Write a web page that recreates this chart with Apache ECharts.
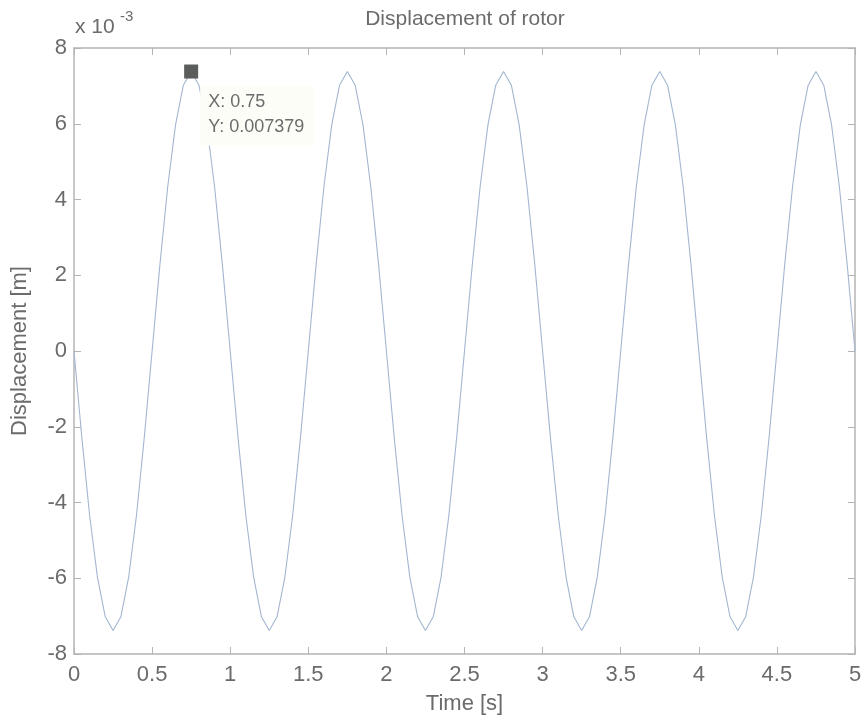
<!DOCTYPE html>
<html>
<head>
<meta charset="utf-8">
<title>Displacement of rotor</title>
<script src="https://cdn.jsdelivr.net/npm/echarts@6/dist/echarts.min.js"></script>
<style>
  html, body { margin: 0; padding: 0; background: #fff; }
  #chart { width: 867px; height: 722px; }
</style>
</head>
<body>
<div id="chart"></div>
<script>
// time samples [s]
const timeS = [
  0.00, 0.05, 0.10, 0.15, 0.20, 0.25, 0.30, 0.35, 0.40, 0.45,
  0.50, 0.55, 0.60, 0.65, 0.70, 0.75, 0.80, 0.85, 0.90, 0.95,
  1.00, 1.05, 1.10, 1.15, 1.20, 1.25, 1.30, 1.35, 1.40, 1.45,
  1.50, 1.55, 1.60, 1.65, 1.70, 1.75, 1.80, 1.85, 1.90, 1.95,
  2.00, 2.05, 2.10, 2.15, 2.20, 2.25, 2.30, 2.35, 2.40, 2.45,
  2.50, 2.55, 2.60, 2.65, 2.70, 2.75, 2.80, 2.85, 2.90, 2.95,
  3.00, 3.05, 3.10, 3.15, 3.20, 3.25, 3.30, 3.35, 3.40, 3.45,
  3.50, 3.55, 3.60, 3.65, 3.70, 3.75, 3.80, 3.85, 3.90, 3.95,
  4.00, 4.05, 4.10, 4.15, 4.20, 4.25, 4.30, 4.35, 4.40, 4.45,
  4.50, 4.55, 4.60, 4.65, 4.70, 4.75, 4.80, 4.85, 4.90, 4.95,
  5.00
];

// rotor displacement [m]
const displacement = [
  0, -0.002280, -0.004337, -0.005970, -0.007018, -0.007379, -0.007018, -0.005970, -0.004337, -0.002280,
  0,  0.002280,  0.004337,  0.005970,  0.007018,  0.007379,  0.007018,  0.005970,  0.004337,  0.002280,
  0, -0.002280, -0.004337, -0.005970, -0.007018, -0.007379, -0.007018, -0.005970, -0.004337, -0.002280,
  0,  0.002280,  0.004337,  0.005970,  0.007018,  0.007379,  0.007018,  0.005970,  0.004337,  0.002280,
  0, -0.002280, -0.004337, -0.005970, -0.007018, -0.007379, -0.007018, -0.005970, -0.004337, -0.002280,
  0,  0.002280,  0.004337,  0.005970,  0.007018,  0.007379,  0.007018,  0.005970,  0.004337,  0.002280,
  0, -0.002280, -0.004337, -0.005970, -0.007018, -0.007379, -0.007018, -0.005970, -0.004337, -0.002280,
  0,  0.002280,  0.004337,  0.005970,  0.007018,  0.007379,  0.007018,  0.005970,  0.004337,  0.002280,
  0, -0.002280, -0.004337, -0.005970, -0.007018, -0.007379, -0.007018, -0.005970, -0.004337, -0.002280,
  0,  0.002280,  0.004337,  0.005970,  0.007018,  0.007379,  0.007018,  0.005970,  0.004337,  0.002280,
  0
];

// data tip
const tipPoint = [0.75, 0.007379];

const FONT = "'Liberation Sans', Arial, sans-serif";
const TEXT = '#6b6b6b';
const FRAME = '#b4b4b4';

const chart = echarts.init(document.getElementById('chart'));

// top / right frame axes, no labels
const hiddenAxis = {
  axisLabel: { show: false },
  splitLine: { show: false },
  axisLine: { show: true, onZero: false, lineStyle: { color: FRAME, width: 1.5 } },
  axisTick: { show: true, inside: true, length: 7, lineStyle: { color: FRAME } }
};

const option = {
  backgroundColor: '#ffffff',
  animation: false,
  title: {
    text: 'Displacement of rotor',
    left: 465,
    top: 9,
    textAlign: 'center',
    padding: 0,
    textStyle: { fontFamily: FONT, fontSize: 21, fontWeight: 'normal', color: TEXT }
  },
  grid: { left: 74, right: 12, top: 48, bottom: 68, outerBoundsMode: 'none', containLabel: false },
  xAxis: [
    {
      type: 'value',
      min: 0, max: 5, interval: 0.5,
      name: 'Time [s]',
      nameLocation: 'middle',
      nameGap: 39,
      nameTextStyle: { fontFamily: FONT, fontSize: 22, color: TEXT },
      axisLabel: { fontFamily: FONT, fontSize: 22, color: TEXT, margin: 10 },
      splitLine: { show: false },
      axisLine: { show: true, onZero: false, lineStyle: { color: FRAME, width: 1.5 } },
      axisTick: { show: true, inside: true, length: 7, lineStyle: { color: FRAME } }
    },
    Object.assign({ type: 'value', position: 'top', min: 0, max: 5, interval: 0.5 }, hiddenAxis)
  ],
  yAxis: [
    {
      type: 'value',
      min: -0.008, max: 0.008, interval: 0.002,
      name: 'Displacement [m]',
      nameLocation: 'middle',
      nameGap: 43,
      nameTextStyle: { fontFamily: FONT, fontSize: 22, color: TEXT },
      axisLabel: {
        fontFamily: FONT, fontSize: 22, color: TEXT, margin: 7,
        formatter: v => String(Math.round(v * 1000))
      },
      splitLine: { show: false },
      axisLine: { show: true, onZero: false, lineStyle: { color: FRAME, width: 1.5 } },
      axisTick: { show: true, inside: true, length: 7, lineStyle: { color: FRAME } }
    },
    Object.assign({ type: 'value', position: 'right', min: -0.008, max: 0.008, interval: 0.002 }, hiddenAxis)
  ],
  graphic: [
    {
      type: 'text', left: 75, top: 17,
      style: { text: 'x 10', font: `21px ${FONT}`, fill: TEXT }
    },
    {
      type: 'text', left: 120, top: 9,
      style: { text: '-3', font: `15px ${FONT}`, fill: TEXT }
    }
  ],
  series: [
    {
      type: 'line',
      data: timeS.map((t, i) => [t, displacement[i]]),
      showSymbol: false,
      lineStyle: { color: '#a3b6d0', width: 1.1 },
      markPoint: {
        symbol: 'rect',
        symbolSize: 14,
        itemStyle: { color: '#5a5d5c' },
        data: [{ coord: tipPoint }],
        label: {
          show: true,
          position: [16, 21],
          align: 'left',
          verticalAlign: 'top',
          backgroundColor: '#fdfdf8',
          padding: [4, 10, 6, 8],
          fontFamily: FONT,
          fontSize: 18,
          lineHeight: 25,
          color: TEXT,
          formatter: () => 'X: ' + tipPoint[0] + '\nY: ' + tipPoint[1]
        }
      }
    }
  ]
};

chart.setOption(option);
</script>
</body>
</html>
